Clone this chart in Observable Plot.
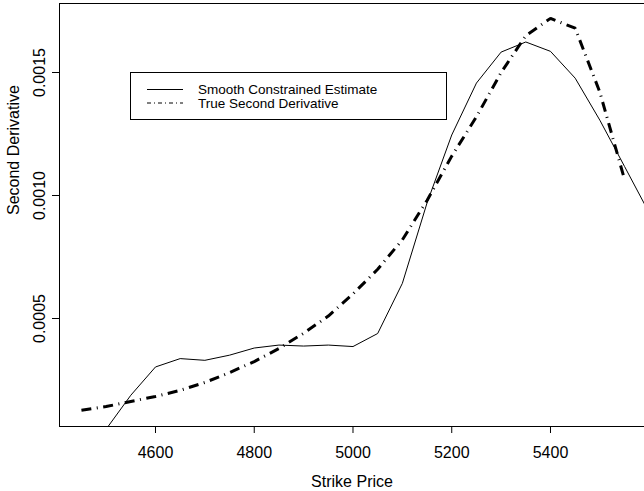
<!DOCTYPE html>
<html>
<head>
<meta charset="utf-8">
<script src="https://cdn.jsdelivr.net/npm/d3@7"></script>
<script src="https://cdn.jsdelivr.net/npm/@observablehq/plot@0.6"></script>
<style>
  html, body { margin: 0; padding: 0; background: white; overflow: hidden; }
  #chart { position: relative; width: 644px; height: 491px; }
</style>
</head>
<body>
<div id="chart"></div>
<script>
// Smooth constrained estimate (solid line)
const smoothStrike = [4500, 4550, 4600, 4650, 4700, 4750, 4800, 4850, 4900, 4950, 5000, 5050, 5100, 5150, 5200, 5250, 5300, 5350, 5400, 5450, 5500, 5550, 5600];
const smoothValues = [0.000050, 0.000188, 0.000303, 0.000337, 0.000330, 0.000351, 0.000380, 0.000392, 0.000388, 0.000392, 0.000386, 0.000439, 0.000643, 0.000970, 0.001246, 0.001457, 0.001583, 0.001624, 0.001586, 0.001477, 0.001306, 0.001118, 0.000929];

// True second derivative (dash-dot line)
const trueStrike = [4450, 4500, 4550, 4600, 4650, 4700, 4750, 4800, 4850, 4900, 4950, 5000, 5050, 5100, 5150, 5200, 5250, 5300, 5350, 5400, 5450, 5500, 5550];
const trueValues = [0.000127, 0.000142, 0.000163, 0.000183, 0.000208, 0.000240, 0.000280, 0.000325, 0.000378, 0.000440, 0.000510, 0.000600, 0.000700, 0.000820, 0.000980, 0.001160, 0.001320, 0.001500, 0.001650, 0.001720, 0.001680, 0.001420, 0.001065];

const xTicks = [4600, 4800, 5000, 5200, 5400];
const yTicks = [0.0005, 0.0010, 0.0015];
const xTitle = "Strike Price";
const yTitle = "Second Derivative";
const legendLabels = ["Smooth Constrained Estimate", "True Second Derivative"];

const smooth = smoothStrike.map((x, i) => ({x, y: smoothValues[i]}));
const truth = trueStrike.map((x, i) => ({x, y: trueValues[i]}));

const font = "'Liberation Sans', Arial, Helvetica, sans-serif";

const chart = Plot.plot({
  width: 644,
  height: 491,
  marginLeft: 59,
  marginTop: 3,
  marginRight: 0,
  marginBottom: 65,
  style: {fontFamily: font, fontSize: "16px", background: "white", color: "black"},
  x: {domain: [4405.6, 5590.4]},
  y: {domain: [0.000061, 0.0017805]},
  marks: [
    Plot.frame({stroke: "black"}),
    Plot.axisX({ticks: xTicks, tickSize: 7, tickPadding: 13, tickFormat: d3.format("d"), label: null}),
    Plot.axisY({ticks: yTicks, tickSize: 7, tickPadding: 8, tickRotate: -90, tickFormat: d3.format(".4f"), label: null}),
    Plot.line(smooth, {x: "x", y: "y", stroke: "black", strokeWidth: 1, clip: true}),
    Plot.line(truth, {x: "x", y: "y", stroke: "black", strokeWidth: 3, strokeDasharray: "10,5.5,1,5.5", strokeLinecap: "butt", strokeLinejoin: "miter", clip: true}),
    Plot.text([xTitle], {frameAnchor: "bottom", dy: 60, lineAnchor: "bottom", fontSize: 16}),
    Plot.text([yTitle], {frameAnchor: "left", dx: -41, rotate: -90, lineAnchor: "bottom", fontSize: 16})
  ]
});

document.getElementById("chart").appendChild(chart);

// Legend box inside the plot area
const svg = d3.select(chart);
const lg = svg.append("g")
  .attr("font-family", font)
  .attr("font-size", 13.5)
  .attr("text-anchor", "start");
lg.append("rect")
  .attr("x", 130.5).attr("y", 72.5).attr("width", 316).attr("height", 47)
  .attr("fill", "white").attr("stroke", "black");
const rowY = [89.5, 103];
const dashes = [null, "4,3,1,3"];
legendLabels.forEach((label, i) => {
  lg.append("line")
    .attr("x1", 147).attr("x2", 183)
    .attr("y1", rowY[i]).attr("y2", rowY[i])
    .attr("stroke", "black").attr("stroke-width", 1)
    .attr("stroke-dasharray", dashes[i]);
  lg.append("text")
    .attr("x", 198).attr("y", rowY[i]).attr("dy", "0.35em")
    .attr("text-anchor", "start")
    .attr("fill", "black")
    .text(label);
});
</script>
</body>
</html>
